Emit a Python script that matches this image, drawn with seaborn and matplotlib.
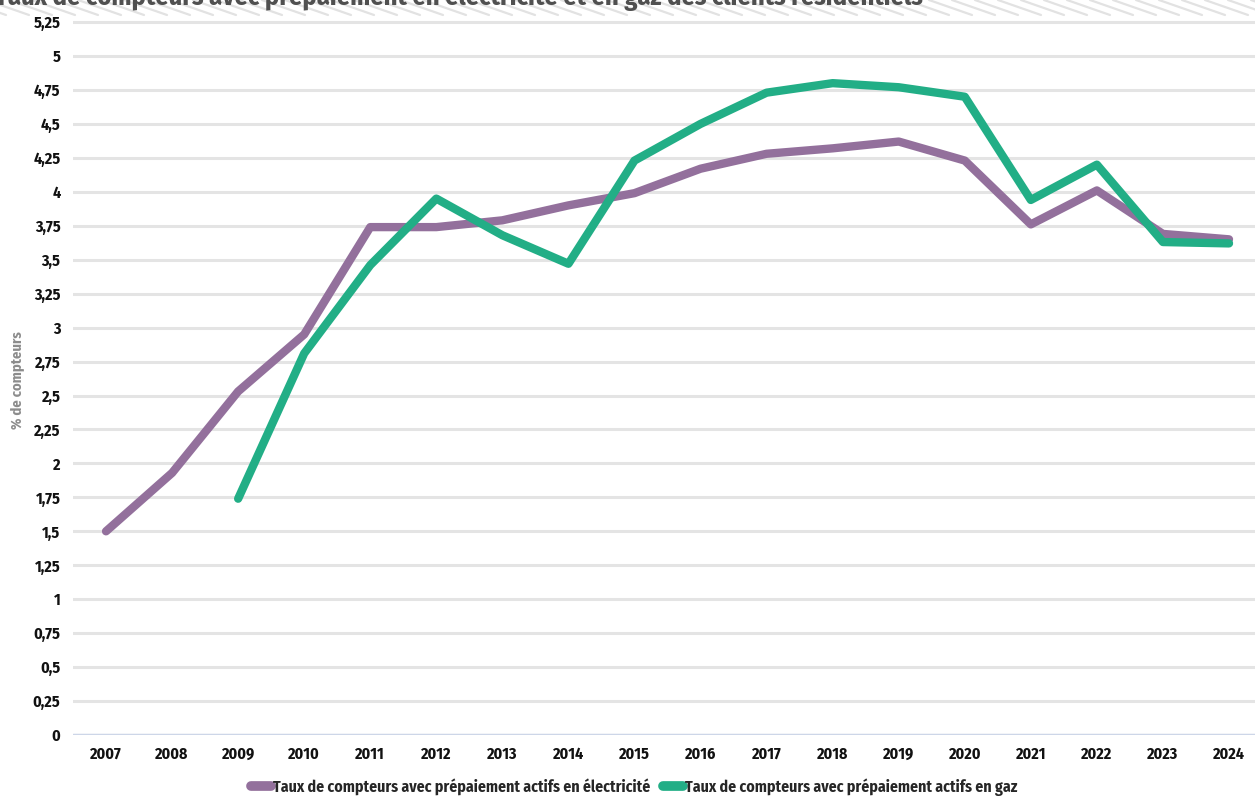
import numpy as np
import pandas as pd
import seaborn as sns
import matplotlib.pyplot as plt
from matplotlib.lines import Line2D

years = list(range(2007, 2025))
elec = [1.50, 1.93, 2.53, 2.95, 3.74, 3.74, 3.79, 3.90, 3.99, 4.17,
        4.28, 4.32, 4.37, 4.23, 3.76, 4.01, 3.69, 3.65]
gaz = [np.nan, np.nan, 1.74, 2.81, 3.46, 3.95, 3.68, 3.47, 4.23, 4.50,
       4.73, 4.80, 4.77, 4.70, 3.94, 4.20, 3.63, 3.62]
series = ["Taux de compteurs avec prépaiement actifs en électricité",
          "Taux de compteurs avec prépaiement actifs en gaz"]
colors = ["#93709c", "#22ae86"]
yticks = np.arange(0, 5.26, 0.25)
ytick_labels = [f"{v:g}".replace(".", ",") for v in yticks]
title = "Taux de compteurs avec prépaiement en électricité et en gaz des clients résidentiels"

df = pd.DataFrame({
    "year": years * 2,
    "value": elec + gaz,
    "serie": [series[0]] * len(years) + [series[1]] * len(years),
})

sns.set_style("white")
plt.rcParams["font.family"] = ["Fira Sans Condensed", "DejaVu Sans"]
plt.rcParams["font.weight"] = "bold"

fig = plt.figure(figsize=(12.55, 7.97), dpi=100)
W, H = 1255, 797
ax = fig.add_axes([73 / W, 1 - 735 / H, 1 - 73 / W, (735 - 2) / H])
ax.patch.set_alpha(0)

sns.lineplot(data=df, x="year", y="value", hue="serie", palette=colors,
             linewidth=6, ax=ax, legend=False, solid_capstyle="round")

ax.set_ylim(0, 733 / 135.8)
ax.set_xlim(2006.5, 2024 + (1255 - 1229) / 66.06)
ax.set_yticks(yticks)
ax.set_yticklabels(ytick_labels)
ax.set_xticks(years)
ax.set_xticklabels([str(y) for y in years])
ax.tick_params(axis="both", length=0, labelsize=11.5, labelcolor="#111111")
ax.tick_params(axis="y", pad=9)
ax.tick_params(axis="x", pad=8)
for t in ax.get_xticklabels() + ax.get_yticklabels():
    t.set_fontweight("bold")
ax.grid(axis="y", color="#e4e4e4", linewidth=2.2)
ax.grid(axis="x", visible=False)
ax.set_axisbelow(True)
ax.axhline(0, color="#cdd6e8", linewidth=2.5, zorder=1)
for s in ax.spines.values():
    s.set_visible(False)
ax.set_xlabel("")
ax.set_ylabel("")

fig.text(18 / W, 1 - 380 / H, "% de compteurs", rotation=90, ha="center",
         va="center", color="#8c8c8c", fontsize=10.5, fontweight="bold")

# hachures en haut
for x0 in range(-60, W + 40, 23):
    fig.add_artist(Line2D([x0 / W, (x0 + 43) / W], [1, 1 - 15 / H],
                          transform=fig.transFigure, color="#e2e2e2", lw=1.6, zorder=0))

fig.text(-5 / W, 1 - 5 / H, title, ha="left", va="baseline", color="#505050",
         fontsize=19, fontweight="bold")

handles = [Line2D([0], [0], color=c, lw=7, solid_capstyle="round") for c in colors]
fig.legend(handles, series, loc="center", bbox_to_anchor=(634 / W, 1 - 787 / H),
           ncol=2, frameon=False, handlelength=1.3, handletextpad=0.1,
           columnspacing=0.8, prop={"weight": "bold", "size": 11.4})

fig.savefig("out.png", dpi=100)
